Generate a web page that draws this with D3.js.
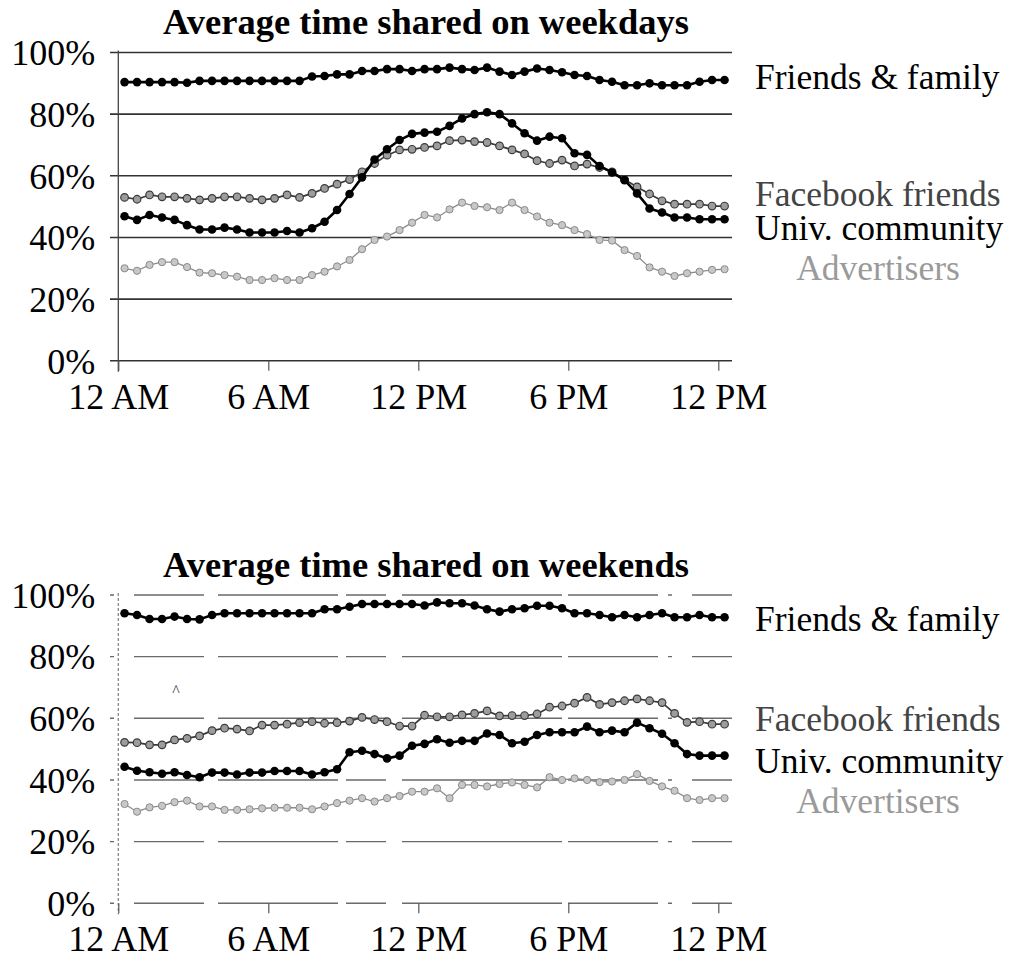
<!DOCTYPE html>
<html><head><meta charset="utf-8">
<script src="https://cdn.jsdelivr.net/npm/d3@7"></script>
<style>body{margin:0;background:#fff}</style>
</head><body><svg id="c" width="1009" height="960"></svg>
<script>
// half-hour sample times (hours)
const hours = [0.25,0.75,1.25,1.75,2.25,2.75,3.25,3.75,4.25,4.75,5.25,5.75,6.25,6.75,7.25,7.75,8.25,8.75,9.25,9.75,10.25,10.75,11.25,11.75,12.25,12.75,13.25,13.75,14.25,14.75,15.25,15.75,16.25,16.75,17.25,17.75,18.25,18.75,19.25,19.75,20.25,20.75,21.25,21.75,22.25,22.75,23.25,23.75,24.25];
const xTickValues = [0,6,12,18,24];
const xTickLabels = ["12 AM","6 AM","12 PM","6 PM","12 PM"];
const yTickValues = [0,20,40,60,80,100];
const seriesNames = ["Friends & family","Facebook friends","Univ. community","Advertisers"];
const titles = ["Average time shared on weekdays","Average time shared on weekends"];

const weekdayFriends = [90.4,90.4,90.4,90.4,90.4,90.2,90.8,90.8,90.8,90.8,90.8,90.8,90.8,90.8,90.8,92.2,92.4,92.9,92.9,94.0,94.0,94.6,94.6,94.0,94.6,94.6,95.1,94.6,94.3,95.1,93.8,92.7,93.8,94.8,94.3,93.6,92.7,92.4,91.1,90.5,89.4,89.4,90.0,89.4,89.4,89.4,90.5,91.1,91.1];
const weekdayFacebook = [53.0,52.4,53.8,53.2,53.2,52.7,52.2,52.7,53.2,53.2,52.7,52.2,52.7,53.8,53.0,54.3,55.9,57.3,58.8,61.3,64.0,66.7,68.4,68.6,69.2,69.7,71.4,71.6,71.1,70.8,69.7,68.4,67.1,64.9,64.0,65.1,63.2,63.8,62.7,61.3,58.8,56.4,54.1,51.9,50.8,50.8,50.8,50.2,50.2];
const weekdayUniv = [46.9,45.7,47.3,46.5,45.7,44.0,42.6,42.6,43.2,42.6,41.6,41.6,41.6,42.1,41.6,43.0,45.1,48.9,54.1,59.5,65.3,68.6,71.6,73.6,74.0,74.3,76.2,78.6,80.0,80.6,80.0,77.0,73.8,71.4,72.7,72.2,67.3,66.8,63.2,61.1,58.6,54.3,49.4,48.1,46.5,46.5,45.9,45.9,45.9];
const weekdayAdvertisers = [30.0,29.2,31.1,32.0,32.0,30.4,28.6,28.4,27.8,27.3,26.2,26.2,26.8,26.2,26.2,27.8,28.9,30.6,32.7,36.2,39.2,40.3,42.4,44.8,47.3,46.5,49.1,51.3,50.2,49.8,48.9,51.3,48.9,46.8,44.8,44.0,42.4,41.1,39.2,39.0,35.9,34.0,30.3,28.9,27.5,28.4,28.9,29.5,29.7];

const weekendFriends = [94.1,93.5,92.2,92.2,93.0,92.2,92.1,93.5,94.1,94.1,94.1,94.1,94.1,94.1,94.1,94.1,95.4,95.4,96.2,97.1,97.1,97.1,97.1,97.1,96.6,97.6,97.3,97.3,96.6,95.4,94.6,95.4,95.7,96.5,96.5,95.7,94.1,94.1,93.5,92.8,93.5,92.8,93.5,94.1,92.8,92.8,93.5,92.8,92.8];
const weekendFacebook = [52.2,52.1,51.4,51.4,53.0,53.5,54.3,56.0,56.8,56.5,55.9,57.8,57.8,58.1,58.6,58.9,58.4,58.6,59.1,60.3,59.6,58.9,57.5,57.5,61.0,60.5,60.5,61.1,61.6,62.4,60.8,60.9,60.9,61.4,63.6,64.0,64.9,66.8,64.5,65.1,65.7,66.3,65.7,65.1,61.6,58.7,58.9,58.1,58.1];
const weekendUniv = [44.3,43.0,42.5,42.0,42.5,41.6,40.9,42.4,42.4,41.8,42.4,42.4,42.9,42.9,42.9,41.8,42.5,43.5,49.0,49.5,48.4,47.0,47.9,51.1,51.7,53.2,52.1,52.7,52.7,55.1,54.6,51.9,52.4,54.6,55.5,55.5,55.5,57.3,55.5,56.0,55.5,58.6,56.8,55.0,51.9,48.4,47.9,47.9,47.9];
const weekendAdvertisers = [32.2,29.7,31.1,31.6,32.8,33.3,31.4,31.4,30.3,30.3,30.5,30.8,31.0,31.0,31.0,30.5,31.4,32.5,33.3,34.1,33.0,34.1,34.8,36.2,36.2,37.3,34.1,38.4,38.4,37.9,38.7,39.2,38.4,37.6,40.9,40.0,40.5,40.0,39.3,39.5,40.0,41.9,39.7,37.9,36.5,34.1,33.5,34.1,34.1];

const svg = d3.select("#c");
const FONT = "'Liberation Serif','Times New Roman',serif";
const x = d3.scaleLinear().domain([0,24]).range([118.3,718.3]);

const styles = {
  "Friends & family": {line:"#000", lw:2.6, r:4.3, fill:"#000", stroke:"#000", sw:0, label:"#000"},
  "Univ. community": {line:"#000", lw:2.6, r:4.3, fill:"#000", stroke:"#000", sw:0, label:"#000"},
  "Facebook friends": {line:"#3a3a3a", lw:1.7, r:3.8, fill:"#9c9c9c", stroke:"#3a3a3a", sw:1.2, label:"#444"},
  "Advertisers": {line:"#8c8c8c", lw:1.3, r:3.6, fill:"#c8c8c8", stroke:"#8a8a8a", sw:1, label:"#9a9a9a"}
};

function panel(off, title, data, labelYs, dashed){
  const g = svg.append("g");
  const y = d3.scaleLinear().domain([0,100]).range([360.8+off, 52.5+off]);
  // title
  g.append("text").attr("x",426).attr("y",34+off).attr("text-anchor","middle")
    .attr("font-family",FONT).attr("font-weight","bold").attr("font-size",36.5).text(title);
  // gridlines
  g.selectAll("line.grid").data(yTickValues).join("line").attr("class","grid")
    .attr("x1",110).attr("x2",732).attr("y1",d=>y(d)).attr("y2",d=>y(d))
    .attr("stroke", dashed ? "#6a6a6a" : "#333").attr("stroke-width", dashed?1.4:1.6)
    .attr("stroke-dasharray", dashed ? "4,20,70,14,120,8,40,16,160,6,90,10" : null);
  // y axis labels
  const ya = d3.axisLeft(y).tickValues(yTickValues).tickSize(0).tickPadding(23).tickFormat(d=>d+"%");
  const yg = g.append("g").attr("transform",`translate(118.3,0)`).call(ya);
  yg.select(".domain").remove();
  yg.selectAll("text").attr("font-family",FONT).attr("font-size",36).attr("fill","#000").attr("dy","0.34em");
  // y axis line
  g.append("line").attr("x1",118.3).attr("x2",118.3).attr("y1",y(100)-2).attr("y2",y(0)+11)
    .attr("stroke", dashed ? "#888" : "#444").attr("stroke-width",1.3)
    .attr("stroke-dasharray", dashed ? "3,2" : null);
  // x axis
  const xa = d3.axisBottom(x).tickValues(xTickValues).tickSize(10).tickFormat((d,i)=>xTickLabels[i]);
  const xg = g.append("g").attr("transform",`translate(0,${y(0)})`).call(xa);
  xg.select(".domain").remove();
  xg.selectAll("line").attr("stroke","#555").attr("stroke-width",1.2);
  xg.selectAll("text").attr("font-family",FONT).attr("font-size",36).attr("fill","#000")
    .attr("y",48).attr("dy","0");
  // series (draw bottom-most first)
  const order = ["Advertisers","Facebook friends","Univ. community","Friends & family"];
  order.forEach(name=>{
    const vals = data[name], s = styles[name];
    const pts = hours.map((h,i)=>[h, vals[i]]);
    g.append("path").datum(pts)
      .attr("d", d3.line().x(d=>x(d[0])).y(d=>y(d[1])))
      .attr("fill","none").attr("stroke",s.line).attr("stroke-width",s.lw).attr("stroke-linejoin","round");
    g.append("g").selectAll("circle").data(pts).join("circle")
      .attr("cx",d=>x(d[0])).attr("cy",d=>y(d[1])).attr("r",s.r)
      .attr("fill",s.fill).attr("stroke",s.stroke).attr("stroke-width",s.sw);
  });
  // right labels
  seriesNames.forEach((name,i)=>{
    const adv = name==="Advertisers";
    g.append("text").attr("x", adv ? 878 : 755).attr("y", labelYs[i]+off)
      .attr("text-anchor", adv ? "middle" : "start")
      .attr("font-family",FONT).attr("font-size",35.5).attr("fill",styles[name].label).text(name);
  });
  return g;
}

panel(0, titles[0], {"Friends & family":weekdayFriends,"Facebook friends":weekdayFacebook,"Univ. community":weekdayUniv,"Advertisers":weekdayAdvertisers}, [89,206,240,280], false);
const g2 = panel(542.5, titles[1], {"Friends & family":weekendFriends,"Facebook friends":weekendFacebook,"Univ. community":weekendUniv,"Advertisers":weekendAdvertisers}, [88,188,230,270], true);
// small scan artifact mark seen in the weekend panel
g2.append("text").attr("x",176).attr("y",696).attr("text-anchor","middle")
  .attr("font-family",FONT).attr("font-size",16).attr("fill","#333").text("^");
</script></body></html>
